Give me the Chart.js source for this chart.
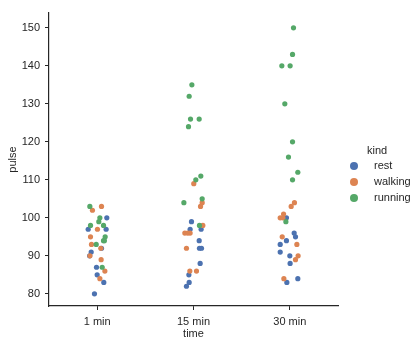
<!DOCTYPE html>
<html>
<head>
  <meta charset="UTF-8" />
  <title>pulse by time</title>
  <script src="https://cdn.jsdelivr.net/npm/chart.js"></script>
  <style>
    html, body { margin: 0; padding: 0; background: #fff; }
    #wrap { width: 420px; height: 348px; }
  </style>
</head>
<body>
  <div id="wrap"><canvas id="strip" width="420" height="348"></canvas></div>
  <script>
    const times = ["1 min", "15 min", "30 min"];
    const kinds = ["rest", "walking", "running"];
    const yTicks = [80, 90, 100, 110, 120, 130, 140, 150];

    // pulse values per time (1, 15, 30 min) and horizontal jitter
    const restPulse = [
      [100, 97, 97, 92, 91, 90, 87, 85, 83, 80],
      [99, 97, 97, 94, 92, 92, 88, 85, 83, 82],
      [100, 96, 95, 94, 93, 91, 90, 88, 84, 83]
    ];
    const restJitter = [
      [0.10, -0.093, 0.093, 0.045, -0.062, -0.078, -0.007, 0, 0.069, -0.028],
      [-0.021, -0.035, 0.079, 0.059, 0.062, 0.083, 0.069, -0.048, -0.045, -0.073],
      [-0.035, 0.045, 0.059, -0.035, -0.1, -0.1, 0, 0.003, 0.083, -0.031]
    ];
    const walkingPulse = [
      [103, 102, 97, 95, 93, 92, 90, 89, 86, 84],
      [109, 104, 103, 98, 96, 96, 96, 92, 86, 86],
      [104, 103, 101, 100, 100, 95, 93, 90, 89, 84]
    ];
    const walkingJitter = [
      [0.045, -0.049, 0.003, -0.069, -0.059, 0.038, -0.075, 0.041, 0.08, 0.028],
      [0.003, 0.09, 0.073, 0.097, -0.09, -0.035, -0.06, -0.073, -0.038, 0.031],
      [0.048, 0.014, -0.065, -0.1, -0.072, -0.079, 0.073, 0.086, 0.059, -0.062]
    ];
    const runningPulse = [
      [103, 100, 99, 98, 98, 95, 94, 94, 93, 87],
      [135, 132, 126, 126, 124, 111, 110, 105, 104, 98],
      [150, 143, 140, 140, 130, 120, 116, 112, 110, 99]
    ];
    const runningJitter = [
      [-0.076, 0.028, 0.017, -0.069, 0.066, 0.083, 0.066, 0.075, -0.01, 0.052],
      [-0.017, -0.045, -0.031, 0.059, -0.052, 0.076, 0.024, 0.09, -0.1, 0.062],
      [0.038, 0.028, -0.083, 0.003, -0.052, 0.028, -0.014, 0.083, 0.028, -0.041]
    ];

    const colors = ["#4C72B0", "#DD8452", "#55A868"];
    const axisColor = "#262626";
    const fontFamily = "'Liberation Sans', Arial, sans-serif";

    function toPoints(pulse, jitter) {
      const pts = [];
      pulse.forEach((row, t) => {
        row.forEach((v, i) => pts.push({ x: t + jitter[t][i], y: v }));
      });
      return pts;
    }

    const series = [
      toPoints(restPulse, restJitter),
      toPoints(walkingPulse, walkingJitter),
      toPoints(runningPulse, runningJitter)
    ];

    const datasets = kinds.map((k, i) => ({
      label: k,
      data: series[i],
      backgroundColor: colors[i],
      borderColor: colors[i],
      borderWidth: 0,
      pointRadius: 2.6,
      pointHoverRadius: 2.6,
      order: kinds.length - i
    }));

    // legend drawn by hand to sit like seaborn's outside legend
    const sideLegend = {
      id: "sideLegend",
      afterDraw(chart) {
        const c = chart.ctx;
        c.save();
        c.font = "11px " + fontFamily;
        c.fillStyle = axisColor;
        c.textBaseline = "middle";
        c.textAlign = "left";
        c.fillText("kind", 367, 151);
        kinds.forEach((k, i) => {
          const y = 166 + i * 16;
          c.beginPath();
          c.arc(354, y, 4, 0, Math.PI * 2);
          c.fillStyle = colors[i];
          c.fill();
          c.fillStyle = axisColor;
          c.fillText(k, 374, y);
        });
        c.restore();
      }
    };

    new Chart(document.getElementById("strip"), {
      type: "scatter",
      data: { datasets },
      options: {
        responsive: false,
        animation: false,
        events: [],
        layout: { padding: { left: 0, top: 13, right: 82, bottom: 0 } },
        plugins: { legend: { display: false }, tooltip: { enabled: false } },
        scales: {
          x: {
            type: "linear",
            min: -0.5,
            max: 2.5,
            afterBuildTicks: s => { s.ticks = times.map((t, i) => ({ value: i })); },
            afterFit: s => { s.height = 42; },
            ticks: {
              callback: v => times[v],
              color: axisColor,
              font: { family: fontFamily, size: 11 },
              padding: 5,
              maxRotation: 0
            },
            grid: { drawOnChartArea: false, drawTicks: true, tickLength: 4, color: axisColor, lineWidth: 1 },
            border: { display: true, color: axisColor, width: 1.2 },
            title: { display: true, text: "time", color: axisColor, font: { family: fontFamily, size: 11 }, padding: { top: 0, bottom: 7 } }
          },
          y: {
            min: 76.8,
            max: 153.9,
            afterBuildTicks: s => { s.ticks = yTicks.map(v => ({ value: v })); },
            afterFit: s => { s.width = 49; },
            ticks: {
              color: axisColor,
              font: { family: fontFamily, size: 11 },
              padding: 5
            },
            grid: { drawOnChartArea: false, drawTicks: true, tickLength: 4, color: axisColor, lineWidth: 1 },
            border: { display: true, color: axisColor, width: 1.2 },
            title: { display: true, text: "pulse", color: axisColor, font: { family: fontFamily, size: 11 }, padding: { top: 6, bottom: 0 } }
          }
        }
      },
      plugins: [sideLegend]
    });
  </script>
</body>
</html>
